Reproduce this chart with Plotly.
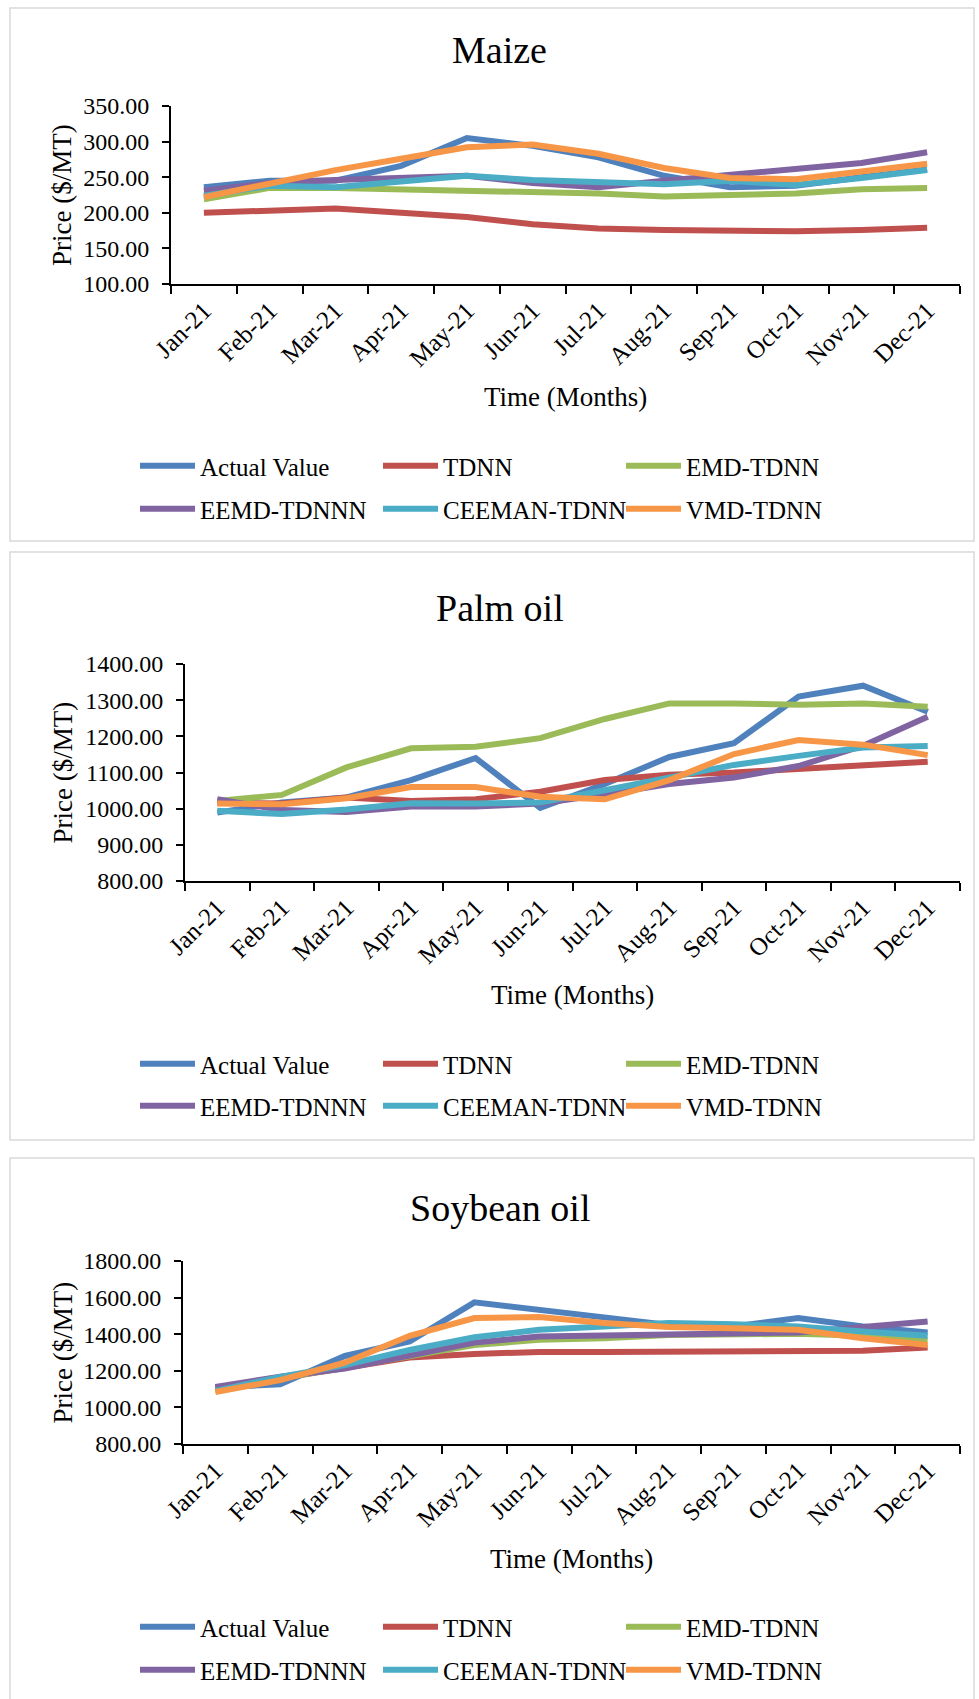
import plotly.graph_objects as go

W, H = 979, 1699
FONT = "Liberation Serif"

months = ["Jan-21", "Feb-21", "Mar-21", "Apr-21", "May-21", "Jun-21",
          "Jul-21", "Aug-21", "Sep-21", "Oct-21", "Nov-21", "Dec-21"]
series_names = ["Actual Value", "TDNN", "EMD-TDNN", "EEMD-TDNNN", "CEEMAN-TDNN", "VMD-TDNN"]
colors = ["#4F81BD", "#C0504D", "#9BBB59", "#8064A2", "#4BACC6", "#F79646"]

# Maize
maize_actual = [236, 245, 245, 266, 305, 294, 278, 252, 236, 238, 250, 261]
maize_tdnn = [200, 202, 206, 200, 194, 184, 178, 176, 174, 174, 176, 179]
maize_emd = [219, 235, 235, 233, 233, 231, 227, 223, 225, 227, 233, 235]
maize_eemd = [231, 242, 246, 249, 252, 242, 236, 245, 253, 261, 270, 285]
maize_ceeman = [224, 238, 236, 245, 252, 246, 242, 240, 245, 239, 249, 260]
maize_vmd = [222, 242, 260, 276, 292, 296, 283, 263, 249, 247, 258, 269]

# Palm oil
palm_actual = [989, 1017, 1031, 1079, 1140, 1002, 1068, 1143, 1181, 1310, 1340, 1268]
palm_tdnn = [1017, 1014, 1031, 1021, 1026, 1047, 1079, 1094, 1100, 1109, 1120, 1130]
palm_emd = [1021, 1038, 1114, 1167, 1171, 1195, 1248, 1291, 1291, 1287, 1291, 1282]
palm_eemd = [1026, 996, 991, 1006, 1006, 1014, 1040, 1068, 1086, 1118, 1174, 1254]
palm_ceeman = [994, 985, 998, 1015, 1014, 1017, 1051, 1086, 1121, 1146, 1169, 1173]
palm_vmd = [1014, 1012, 1029, 1060, 1060, 1033, 1026, 1079, 1151, 1190, 1177, 1148]

# Soybean oil
soy_actual = [1108, 1127, 1281, 1360, 1574, 1534, 1494, 1451, 1442, 1488, 1442, 1409]
soy_tdnn = [1103, 1158, 1213, 1273, 1292, 1303, 1303, 1303, 1303, 1303, 1310, 1328]
soy_emd = [1097, 1158, 1218, 1286, 1341, 1369, 1378, 1396, 1396, 1402, 1391, 1369]
soy_eemd = [1112, 1167, 1213, 1281, 1354, 1387, 1391, 1402, 1402, 1409, 1439, 1470]
soy_ceeman = [1090, 1167, 1231, 1314, 1383, 1424, 1442, 1461, 1455, 1442, 1415, 1391]
soy_vmd = [1084, 1149, 1244, 1391, 1488, 1494, 1461, 1439, 1433, 1424, 1378, 1341]

panel_titles = ["Maize", "Palm oil", "Soybean oil"]
panel_series = [
    [maize_actual, maize_tdnn, maize_emd, maize_eemd, maize_ceeman, maize_vmd],
    [palm_actual, palm_tdnn, palm_emd, palm_eemd, palm_ceeman, palm_vmd],
    [soy_actual, soy_tdnn, soy_emd, soy_eemd, soy_ceeman, soy_vmd],
]
y_ranges = [[100, 350], [800, 1400], [800, 1800]]
y_dticks = [50, 100, 200]

# layout geometry in pixels
plot_boxes = [  # x0, x1, y0(top), y1(bottom)
    (171, 960, 106, 284),
    (185, 960, 664, 881),
    (183, 960, 1261, 1444),
]
title_y = [50, 608, 1208]
xtitle_y = [397, 995, 1559]
legend_rows = [(466, 509), (1064, 1106), (1627, 1670)]
panel_rects = [(10, 8, 974, 541), (10, 552, 974, 1140), (10, 1158, 974, 1720)]


def px(x):
    return x / W


def py(y):
    return 1 - y / H


fig = go.Figure()
annotations = []
shapes = []
layout_extra = {}

for p in range(3):
    x0, x1, y0, y1 = plot_boxes[p]
    xa = "x" if p == 0 else f"x{p + 1}"
    ya = "y" if p == 0 else f"y{p + 1}"
    xkey = "xaxis" if p == 0 else f"xaxis{p + 1}"
    ykey = "yaxis" if p == 0 else f"yaxis{p + 1}"
    for i, vals in enumerate(panel_series[p]):
        leg_index = 2 * p + (i // 3) + 1
        leg = "legend" if leg_index == 1 else f"legend{leg_index}"
        fig.add_trace(go.Scatter(
            x=months, y=vals, name=series_names[i], mode="lines",
            line=dict(color=colors[i], width=6),
            xaxis=xa, yaxis=ya, legend=leg, showlegend=True,
        ))
    layout_extra[xkey] = dict(
        domain=[px(x0), px(x1)], anchor=ya, type="category",
        categoryorder="array", categoryarray=months,
        range=[-0.5, 11.5], tickson="boundaries",
        ticks="outside", ticklen=8, tickwidth=2, tickcolor="black",
        showline=True, linecolor="black", linewidth=2,
        showgrid=False, zeroline=False, tickangle=-45,
        tickfont=dict(family=FONT, size=25, color="black"),
        fixedrange=True,
    )
    layout_extra[ykey] = dict(
        domain=[py(y1), py(y0)], anchor=xa,
        range=y_ranges[p], dtick=y_dticks[p], tick0=0, tickformat=".2f",
        ticks="outside", ticklen=7, tickwidth=2, tickcolor="black",
        showline=True, linecolor="black", linewidth=2,
        showgrid=False, zeroline=False,
        tickfont=dict(family=FONT, size=24, color="black"),
        ticklabelstandoff=8, fixedrange=True,
    )
    # titles
    annotations.append(dict(
        text=panel_titles[p], x=px(500), y=py(title_y[p]), xref="paper", yref="paper",
        xanchor="center", yanchor="middle", showarrow=False,
        font=dict(family=FONT, size=38, color="black"),
    ))
    annotations.append(dict(
        text="Time (Months)", x=px((x0 + x1) / 2), y=py(xtitle_y[p]), xref="paper", yref="paper",
        xanchor="center", yanchor="middle", showarrow=False,
        font=dict(family=FONT, size=27, color="black"),
    ))
    annotations.append(dict(
        text="Price ($/MT)", x=px(62), y=py((y0 + y1) / 2), xref="paper", yref="paper",
        xanchor="center", yanchor="middle", showarrow=False, textangle=-90,
        font=dict(family=FONT, size=27, color="black"),
    ))
    rx0, ry0, rx1, ry1 = panel_rects[p]
    shapes.append(dict(
        type="rect", xref="paper", yref="paper",
        x0=px(rx0), x1=px(rx1), y0=py(ry0), y1=py(ry1),
        line=dict(color="#D9D9D9", width=1.5), fillcolor="rgba(0,0,0,0)", layer="below",
    ))
    for r in range(2):
        leg_index = 2 * p + r + 1
        lkey = "legend" if leg_index == 1 else f"legend{leg_index}"
        layout_extra[lkey] = dict(
            orientation="h", x=px(135), y=py(legend_rows[p][r]),
            xanchor="left", yanchor="middle",
            itemwidth=55, entrywidth=173, entrywidthmode="pixels",
            font=dict(family=FONT, size=25, color="black"),
            bgcolor="rgba(0,0,0,0)", borderwidth=0, traceorder="normal",
            itemclick=False, itemdoubleclick=False,
        )

fig.update_layout(
    width=W, height=H,
    margin=dict(l=0, r=0, t=0, b=0, autoexpand=False),
    paper_bgcolor="white", plot_bgcolor="white",
    annotations=annotations, shapes=shapes,
    font=dict(family=FONT, color="black"),
    **layout_extra,
)

fig.write_html("out.html", config={"displayModeBar": False, "responsive": False},
               post_script="document.body.style.margin='0';document.body.style.overflow='hidden';")
